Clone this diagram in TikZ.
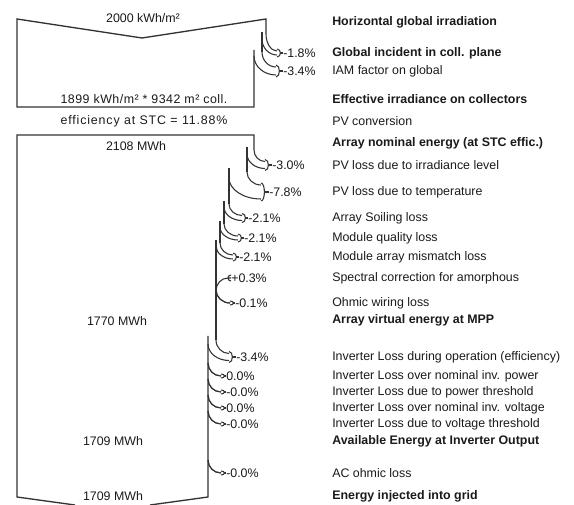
\documentclass[tikz,border=0pt]{standalone}
\usepackage{fontspec}
\setmainfont{Liberation Sans}
\definecolor{lGray}{HTML}{333333}
\definecolor{lText}{HTML}{1A1A1A}

% loss band: old edge x, new edge x, bend of old edge, bend of new edge,
% head x, head y, half width, percent node
\newcommand{\lossband}[8]{%
  \draw[band] (#1,#3) .. controls (#1,{#3+0.55*(#6-#7-#3)}) and ({#5-0.55*(#5-#1)},#6-#7) .. (#5,#6-#7);
  \draw[band] (#2,#4) .. controls (#2,{#4+0.55*(#6+#7-#4)}) and ({#5-0.55*(#5-#2)},#6+#7) .. (#5,#6+#7);
  \draw[band] (#5,#6-#7-2) .. controls (#5+4.5,#6-#7-2) and (#5+4.5,#6+#7+2) .. (#5,#6+#7+2);
  \draw[band] (#5+3.4,#6) -- (#8.west);}

\begin{document}
\begin{tikzpicture}[x=0.75pt, y=-0.75pt,
  every node/.style={font=\fontsize{9.3}{11}\selectfont, text=lText, inner sep=0pt},
  edge/.style={draw=lGray, line width=1pt},
  band/.style={draw=lGray, line width=0.8pt},
  item/.style={anchor=west},
  total/.style={anchor=west, font=\fontsize{9.3}{11}\selectfont\bfseries},
  pct/.style={anchor=west},
]
  \useasboundingbox (0,0) rectangle (574,505);

  % Irradiation block
  \draw[edge] (254,50) -- (254,107) -- (17,107) -- (17,19) -- (142,38)
    -- (266,19) -- (266,34);
  \draw[edge] (262,32) -- (262,52);
  \node (hgi) at (143,18) {2000 kWh/m²};
  \node (coll) at (144,99) {\addfontfeature{LetterSpace=4}1899 kWh/m² * 9342 m² coll.};
  \node (stc) at (144,121) {\addfontfeature{LetterSpace=7}efficiency at STC = 11.88\%};

  \node[pct] (p1) at (283,53) {-1.8\%};
  \node[pct] (p2) at (283,71) {-3.4\%};
  \lossband{266}{262}{34}{39}{277}{53}{2}{p1}
  \lossband{262}{254}{52}{56}{276}{71}{4}{p2}

  % Energy block
  \draw[edge] (254,150) -- (254,135) -- (17,135) -- (17,497) -- (75,505);
  \draw[edge] (247,147) -- (247,172);
  \draw[edge] (229,168) -- (229,204);
  \draw[edge] (224,201) -- (224,224);
  \draw[edge] (220,221) -- (220,243);
  \draw[edge] (216,240) -- (216,340);
  \draw[edge] (208,336) -- (208,497) -- (150,505);
  \node (enom) at (136,146) {2108 MWh};
  \node (evirt) at (117,321) {1770 MWh};
  \node (eout) at (113,441) {1709 MWh};
  \node (egrid) at (113,496) {1709 MWh};

  % Array losses
  \node[pct] (p3) at (272,165) {-3.0\%};
  \node[pct] (p4) at (269,192) {-7.8\%};
  \node[pct] (p5) at (248,218) {-2.1\%};
  \node[pct] (p6) at (244,238) {-2.1\%};
  \node[pct] (p7) at (239,257) {-2.1\%};
  \node[pct] (p8) at (231,278) {+0.3\%};
  \node[pct] (p9) at (235,303) {-0.1\%};
  \lossband{254}{247}{150}{154}{265}{165}{3.5}{p3}
  \lossband{247}{229}{172}{178}{261}{192}{7}{p4}
  \lossband{229}{224}{204}{207}{242}{218}{2.5}{p5}
  \lossband{224}{220}{224}{227}{238}{238}{2}{p6}
  \lossband{220}{216}{243}{246}{233}{257}{2}{p7}
  \draw[band] (216,291) .. controls (216,284) and (221,278) .. (228,278) -- (p8.west);
  \draw[band] (231,275) .. controls (227,275) and (227,281) .. (231,281);
  \lossband{216}{216}{290}{290}{230}{303}{0}{p9}

  % Inverter losses
  \node[pct] (p10) at (236,357) {-3.4\%};
  \node[pct] (p11) at (226,376) {0.0\%};
  \node[pct] (p12) at (226,392) {-0.0\%};
  \node[pct] (p13) at (226,408) {0.0\%};
  \node[pct] (p14) at (226,424) {-0.0\%};
  \node[pct] (p15) at (226,473) {-0.0\%};
  \lossband{216}{208}{340}{344}{229}{357}{3.5}{p10}
  \lossband{208}{208}{363}{363}{221}{376}{0}{p11}
  \lossband{208}{208}{379}{379}{221}{392}{0}{p12}
  \lossband{208}{208}{395}{395}{221}{408}{0}{p13}
  \lossband{208}{208}{411}{411}{221}{424}{0}{p14}
  \lossband{208}{208}{460}{460}{221}{473}{0}{p15}

  % Captions
  \node[total] (horiz) at (332,22) {Horizontal global irradiation};
  \node[total] (incid) at (332,53) {Global incident in coll. plane};
  \node[item] (iam) at (332,71) {IAM factor on global};
  \node[total] (effirr) at (332,99) {Effective irradiance on collectors};
  \node[item] (pvconv) at (332,121) {PV conversion};
  \node[total] (nominal) at (332,143) {Array nominal energy (at STC effic.)};
  \node[item] (irrlev) at (332,165) {PV loss due to irradiance level};
  \node[item] (temp) at (332,192) {PV loss due to temperature};
  \node[item] (soil) at (332,218) {Array Soiling loss};
  \node[item] (quality) at (332,238) {Module quality loss};
  \node[item] (mismatch) at (332,257) {Module array mismatch loss};
  \node[item] (spectral) at (332,278) {Spectral correction for amorphous};
  \node[item] (ohmic) at (332,303) {Ohmic wiring loss};
  \node[total] (mpp) at (332,320) {Array virtual energy at MPP};
  \node[item] (invop) at (332,357) {Inverter Loss during operation (efficiency)};
  \node[item] (invpow) at (332,376) {Inverter Loss over nominal inv. power};
  \node[item] (invthr) at (332,392) {Inverter Loss due to power threshold};
  \node[item] (invvolt) at (332,408) {Inverter Loss over nominal inv. voltage};
  \node[item] (invvthr) at (332,424) {Inverter Loss due to voltage threshold};
  \node[total] (invout) at (332,441) {Available Energy at Inverter Output};
  \node[item] (acohm) at (332,473) {AC ohmic loss};
  \node[total] (grid) at (332,496) {Energy injected into grid};
\end{tikzpicture}
\end{document}
